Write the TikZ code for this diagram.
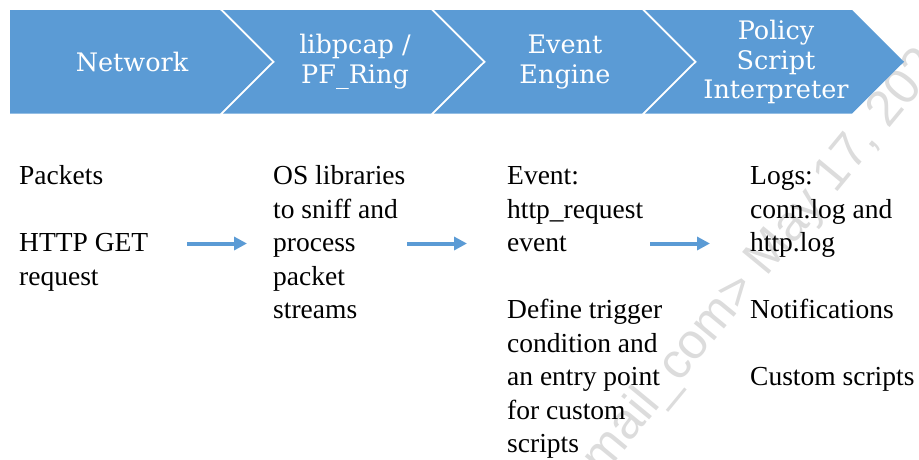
\documentclass[tikz,border=0pt]{standalone}
\usepackage{fontspec}
\setmainfont{Liberation Serif}
\newfontfamily\headfont{DejaVu Serif}
\newfontfamily\markfont{Liberation Sans}
\usetikzlibrary{arrows.meta}
\definecolor{chevblue}{HTML}{5B9BD5}
\definecolor{markgray}{HTML}{DCDCDC}

\begin{document}
\begin{tikzpicture}[x=1pt,y=-1pt,
  chevron/.style={fill=chevblue,draw=none},
  headtext/.style={text=white,font=\headfont\fontsize{25.5}{29.5}\selectfont,align=center,inner sep=0pt},
  bodytext/.style={font=\fontsize{27.5}{33.5}\selectfont,align=left,anchor=base west,inner sep=0pt},
  flow/.style={draw=chevblue,line width=4pt,-{Triangle[length=13pt,width=13pt]}}]
\useasboundingbox (0,0) rectangle (919,459);

% faint diagonal stamp, behind everything else
\begin{scope}
  \clip (0,0) rectangle (919,459);
  \node[text=markgray,font=\markfont\fontsize{50}{50}\selectfont,rotate=50.5,anchor=west,inner sep=0pt] (stamp) at (593,468) {mail\_com> May 17, 2020};
\end{scope}

% process chevrons
\fill[chevron] (10,10) -- (220,10) -- (272,61.75) -- (220,113.5) -- (10,113.5) -- cycle;
\fill[chevron] (223,10) -- (431,10) -- (483,61.75) -- (431,113.5) -- (223,113.5) -- (275,61.75) -- cycle;
\fill[chevron] (434,10) -- (642,10) -- (694,61.75) -- (642,113.5) -- (434,113.5) -- (486,61.75) -- cycle;
\fill[chevron] (645,10) -- (852,10) -- (904,61.75) -- (852,113.5) -- (645,113.5) -- (697,61.75) -- cycle;

\node[headtext] (h1) at (132,62) {Network};
\node[headtext] (h2) at (355,62) {libpcap /\\PF\_Ring};
\node[headtext] (h3) at (565,62) {Event\\Engine};
\node[headtext] (h4) at (776,62) {Policy\\Script\\Interpreter};

% stage descriptions (each placed at the baseline of its last line)
\node[bodytext] (c1) at (19,285.2) {Packets\\[33.5pt]HTTP GET\\request};
\node[bodytext] (c2) at (273,318.7) {OS libraries\\to sniff and\\process\\packet\\streams};
\node[bodytext] (c3) at (507,452.7) {Event:\\http\_request\\event\\[33.5pt]Define trigger\\condition and\\an entry point\\for custom\\scripts};
\node[bodytext] (c4) at (750,385.7) {Logs:\\conn.log and\\http.log\\[33.5pt]Notifications\\[33.5pt]Custom scripts};

% flow arrows between the stages
\coordinate (a1s) at (187,243.5); \coordinate (a1e) at (247,243.5);
\coordinate (a2s) at (407,243.5); \coordinate (a2e) at (467,243.5);
\coordinate (a3s) at (650,243.5); \coordinate (a3e) at (710,243.5);
\draw[flow] (a1s) -- (a1e);
\draw[flow] (a2s) -- (a2e);
\draw[flow] (a3s) -- (a3e);
\end{tikzpicture}
\end{document}
